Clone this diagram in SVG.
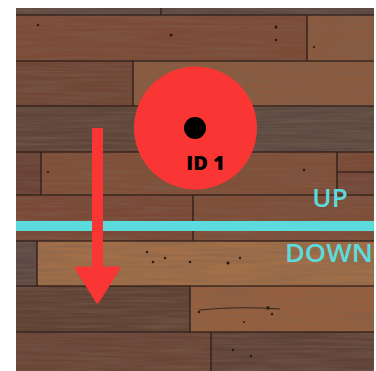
<svg xmlns="http://www.w3.org/2000/svg" width="376" height="371" viewBox="0 0 376 371">
<defs>
<style>
.seam{stroke:#2e1f1a;stroke-width:1.6;fill:none;opacity:0.85}
.nail{fill:#2a1a14}
.lbl{font-family:"Open Sans","Liberation Sans",sans-serif;fill:#5cdbdd;font-weight:600}
</style>
<filter id="grain" x="0" y="0" width="100%" height="100%">
<feTurbulence type="fractalNoise" baseFrequency="0.015 0.35" numOctaves="3" seed="4"/>
<feColorMatrix type="matrix" values="0 0 0 0 0.2  0 0 0 0 0.12  0 0 0 0 0.08  0 0 0 1.4 -0.45"/>
</filter>
<clipPath id="wood"><rect x="16" y="8" width="358" height="363"/></clipPath>
</defs>
<rect width="376" height="371" fill="#ffffff"/>
<g id="floor" clip-path="url(#wood)">
<rect x="16" y="8" width="358" height="363" fill="#74493a"/>
<rect x="16" y="8" width="145" height="7" fill="#5e4a44"/>
<rect x="161" y="8" width="213" height="7" fill="#5a4843"/>
<rect x="16" y="15" width="291" height="46" fill="#7c4b36"/>
<rect x="307" y="15" width="67" height="46" fill="#8a5a3f"/>
<rect x="16" y="61" width="117" height="45" fill="#704636"/>
<rect x="133" y="61" width="241" height="45" fill="#8b5b3f"/>
<rect x="16" y="106" width="358" height="46" fill="#5e4539"/>
<rect x="150" y="106" width="224" height="46" fill="#5c4a42"/>
<rect x="16" y="152" width="25" height="43" fill="#6a4336"/>
<rect x="41" y="152" width="296" height="43" fill="#804f38"/>
<rect x="337" y="152" width="37" height="20" fill="#7a4a36"/>
<rect x="337" y="172" width="37" height="23" fill="#74473a"/>
<rect x="16" y="195" width="177" height="46" fill="#7a4836"/>
<rect x="193" y="195" width="181" height="46" fill="#7e4e38"/>
<rect x="16" y="241" width="21" height="45" fill="#5b4844"/>
<rect x="37" y="241" width="337" height="45" fill="#a26f48"/>
<rect x="16" y="286" width="174" height="46" fill="#604135"/>
<rect x="190" y="286" width="184" height="46" fill="#965f3e"/>
<rect x="16" y="332" width="195" height="39" fill="#6a4537"/>
<rect x="211" y="332" width="163" height="39" fill="#5f4338"/>
<rect x="16" y="8" width="358" height="363" filter="url(#grain)" opacity="0.7"/>
<path class="seam" d="M16 15H374M16 61H374M16 106H374M16 152H374M16 195H374M16 241H374M16 286H374M16 332H374M337 172H374"/>
<path class="seam" d="M161 8V15M307 15V61M133 61V106M41 152V195M337 152V195M193 195V241M37 241V286M190 286V332M211 332V371"/>
<circle class="nail" cx="38" cy="25" r="1.2"/>
<circle class="nail" cx="171" cy="35" r="1.6"/>
<circle class="nail" cx="276" cy="27" r="1.5"/>
<circle class="nail" cx="276" cy="40" r="1.3"/>
<circle class="nail" cx="314" cy="47" r="1.1"/>
<circle class="nail" cx="48" cy="172" r="1.1"/>
<circle class="nail" cx="304" cy="170" r="1.3"/>
<circle class="nail" cx="147" cy="252" r="1.2"/>
<circle class="nail" cx="153" cy="262" r="1.3"/>
<circle class="nail" cx="165" cy="258" r="1.2"/>
<circle class="nail" cx="190" cy="262" r="1.3"/>
<circle class="nail" cx="228" cy="263" r="1.6"/>
<circle class="nail" cx="240" cy="258" r="1.2"/>
<circle class="nail" cx="199" cy="312" r="1.3"/>
<circle class="nail" cx="268" cy="308" r="1.8"/>
<circle class="nail" cx="272" cy="314" r="1.2"/>
<circle class="nail" cx="244" cy="322" r="1"/>
<circle class="nail" cx="233" cy="350" r="1.2"/>
<circle class="nail" cx="251" cy="356" r="1.2"/>
<path d="M199 310 Q240 306 280 309" stroke="#3a2519" stroke-width="1" fill="none"/>
</g>
<g id="divider">
<rect x="16" y="221" width="358" height="10" fill="#5cdbdd"/>
</g>
<g id="target">
<circle cx="195.5" cy="128" r="61.5" fill="#fa3634"/>
<circle cx="195" cy="128" r="11" fill="#000"/>
<text x="205.5" y="170" text-anchor="middle" font-family="'Open Sans','Liberation Sans',sans-serif" font-weight="800" font-size="20" fill="#000">ID 1</text>
</g>
<g id="labels">
<text class="lbl" x="330" y="207" text-anchor="middle" font-size="26">UP</text>
<text class="lbl" x="329" y="262" text-anchor="middle" font-size="25" textLength="88" lengthAdjust="spacingAndGlyphs">DOWN</text>
</g>
<g id="connectors">
<rect x="92" y="128" width="11" height="142" fill="#fa3634"/>
<path d="M76 268 H119 L97.5 302 Z" fill="#fa3634" stroke="#fa3634" stroke-width="3" stroke-linejoin="round"/>
</g>
</svg>
